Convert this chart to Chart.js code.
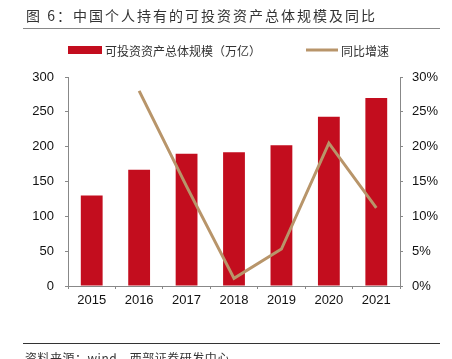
<!DOCTYPE html>
<html><head><meta charset="utf-8">
<script src="https://cdn.jsdelivr.net/npm/chart.js@4/dist/chart.umd.min.js"></script>
<style>
html,body{margin:0;padding:0;background:#fff;width:452px;height:359px;overflow:hidden;}
#title{position:absolute;left:26px;top:5px;font:14px "Noto Sans CJK SC";color:#333;letter-spacing:2px;white-space:nowrap;}
#tline{position:absolute;left:23px;top:28px;width:417px;height:1px;background:#888;}
#fline{position:absolute;left:23px;top:343px;width:417px;height:1px;background:#333;}
#foot{position:absolute;left:25px;top:349px;font:12px "Noto Sans CJK SC";color:#333;letter-spacing:0.5px;white-space:nowrap;}
#wrap{position:absolute;left:0;top:0;width:452px;height:359px;}
</style></head><body>
<div id="wrap"><canvas id="c"></canvas></div>
<div id="title">图 6：中国个人持有的可投资资产总体规模及同比</div>
<div id="tline"></div>
<div id="fline"></div>
<div id="foot">资料来源：wind，西部证券研发中心</div>
<script>
const categories = ['2015','2016','2017','2018','2019','2020','2021'];
const assetScale = [130, 167, 190, 192, 202, 243, 270];
const yoyGrowth = [null, 28.0, 14.3, 1.1, 5.3, 20.5, 11.2];
const leftTicks = [0, 50, 100, 150, 200, 250, 300];
const rightTicks = [0, 5, 10, 15, 20, 25, 30];
const seriesNames = ['可投资资产总体规模（万亿）', '同比增速'];

const RED = '#c30d1e', TAN = '#b8956a', AX = '#888';
const font = {family: '"Liberation Sans", Arial, sans-serif', size: 13};

const legendPlugin = {
  id: 'fixedLegend',
  afterDraw(chart) {
    const ctx = chart.ctx;
    ctx.save();
    ctx.font = '12px "Noto Sans CJK SC"';
    ctx.textBaseline = 'middle';
    const y = 50;
    const bar = chart.data.datasets[1], line = chart.data.datasets[0];
    ctx.fillStyle = bar.backgroundColor;
    ctx.fillRect(68, y - 4, 34, 8);
    ctx.fillStyle = '#333';
    ctx.fillText(bar.label, 105, y + 1);
    ctx.strokeStyle = line.borderColor;
    ctx.lineWidth = 3;
    ctx.beginPath(); ctx.moveTo(306, y); ctx.lineTo(338, y); ctx.stroke();
    ctx.fillText(line.label, 341, y + 1);
    ctx.restore();
  }
};

new Chart(document.getElementById('c'), {
  data: {
    labels: categories,
    datasets: [
      {type: 'line', label: seriesNames[1], data: yoyGrowth, yAxisID: 'y1',
       borderColor: TAN, backgroundColor: TAN, borderWidth: 3, pointRadius: 0,
       tension: 0, spanGaps: false, order: 0},
      {type: 'bar', label: seriesNames[0], data: assetScale, yAxisID: 'y',
       backgroundColor: RED, borderWidth: 0, barPercentage: 0.46, categoryPercentage: 1, order: 1}
    ]
  },
  plugins: [legendPlugin],
  options: {
    responsive: true, maintainAspectRatio: false, animation: false,
    layout: {padding: {top: 77, left: 0, right: 0, bottom: 43}},
    plugins: {
      tooltip: {enabled: false},
      legend: {display: false}
    },
    scales: {
      x: {
        grid: {display: true, drawOnChartArea: false, offset: true, color: AX, tickLength: 3},
        border: {color: AX},
        afterFit: (s) => { s.height = 30; },
        ticks: {font, color: '#111', padding: 4}
      },
      y: {
        position: 'left', min: 0, max: 300,
        afterBuildTicks: (s) => { s.ticks = leftTicks.map(v => ({value: v})); },
        afterFit: (s) => { s.width = 68; },
        grid: {drawOnChartArea: false, color: AX, tickLength: 3},
        border: {color: AX},
        ticks: {font, color: '#111', padding: 11}
      },
      y1: {
        position: 'right', min: 0, max: 30,
        afterBuildTicks: (s) => { s.ticks = rightTicks.map(v => ({value: v})); },
        afterFit: (s) => { s.width = 52; },
        grid: {drawOnChartArea: false, color: AX, tickLength: 3},
        border: {color: AX},
        ticks: {font, color: '#111', padding: 9, callback: (v) => v + '%'}
      }
    }
  }
});
</script>
</body></html>
